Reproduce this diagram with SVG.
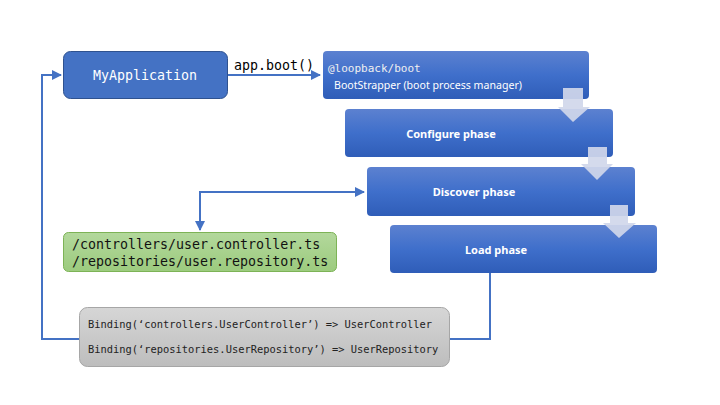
<svg xmlns="http://www.w3.org/2000/svg" width="720" height="405" viewBox="0 0 720 405">
<defs>
<linearGradient id="gBlue" x1="0" y1="0" x2="0" y2="1">
<stop offset="0" stop-color="#5C81D0"/>
<stop offset="0.5" stop-color="#3F6FCB"/>
<stop offset="1" stop-color="#2F5DB8"/>
</linearGradient>
<linearGradient id="gGreen" x1="0" y1="0" x2="0" y2="1">
<stop offset="0" stop-color="#B3D89C"/>
<stop offset="1" stop-color="#9CCB7E"/>
</linearGradient>
<linearGradient id="gGray" x1="0" y1="0" x2="0" y2="1">
<stop offset="0" stop-color="#D6D6D6"/>
<stop offset="1" stop-color="#BDBDBD"/>
</linearGradient>
<marker id="ah" viewBox="0 0 10 10" refX="9" refY="5" markerWidth="5" markerHeight="5" orient="auto-start-reverse">
<path d="M0,0 L10,5 L0,10 z" fill="#4472C4"/>
</marker>
<style>
.mono{font-family:"DejaVu Sans Mono","Liberation Mono",monospace;}
.sans{font-family:"Noto Sans","Open Sans","Liberation Sans",sans-serif;}
.phase{fill:url(#gBlue);}
.ptxt{font-family:"Noto Sans","Open Sans","Liberation Sans",sans-serif;font-weight:bold;font-size:11px;fill:#fff;text-anchor:middle;}
.conn{fill:none;stroke:#4472C4;stroke-width:2;}
.barrow{fill:#D0D7EA;fill-opacity:0.92;}
</style>
</defs>
<rect width="720" height="405" fill="#fff"/>

<g id="connectors">
<path class="conn" d="M227,75 H320" marker-end="url(#ah)"/>
<path class="conn" d="M79,339 H42 V75 H61" marker-end="url(#ah)"/>
<path class="conn" d="M490,273 V339 H450"/>
<path class="conn" d="M364,192 H200 V230" marker-start="url(#ah)" marker-end="url(#ah)"/>
<text x="234" y="70" class="mono" font-size="13.3" fill="#000">app.boot()</text>
</g>

<g id="myapp">
<rect x="63.5" y="51.5" width="164" height="47" rx="7" fill="#4472C4" stroke="#2F528F" stroke-width="1"/>
<text x="145" y="80" class="mono" font-size="13.3" fill="#fff" text-anchor="middle">MyApplication</text>
</g>

<g id="bootstrapper">
<rect x="323" y="51" width="266" height="48" rx="4" class="phase"/>
<text x="328" y="72" class="mono" font-size="11" fill="#F0F0F0">@loopback/boot</text>
<text x="334" y="89" class="sans" font-size="10.6" fill="#fff">BootStrapper (boot process manager)</text>
</g>

<g id="configure">
<rect x="345" y="109" width="268" height="48" rx="4" class="phase"/>
<text x="451" y="138" class="ptxt">Configure phase</text>
</g>

<g id="discover">
<rect x="367" y="167" width="268" height="49" rx="4" class="phase"/>
<text x="474" y="196" class="ptxt">Discover phase</text>
</g>

<g id="load">
<rect x="390" y="225" width="267" height="48" rx="4" class="phase"/>
<text x="496" y="254" class="ptxt">Load phase</text>
</g>

<g id="arrows">
<path class="barrow" d="M563,88 H583 V107 H590 L573,122 L558,107 H563 z"/>
<path class="barrow" d="M588,147 H607 V164 H613 L597,180 L581,164 H588 z"/>
<path class="barrow" d="M610,205 H628 V223 H636 L619,238 L603,223 H610 z"/>
</g>

<g id="files">
<rect x="63.5" y="232.5" width="273" height="39" rx="5" fill="url(#gGreen)" stroke="#7DB356" stroke-width="1"/>
<text x="72" y="249" class="mono" font-size="13.3" fill="#111">/controllers/user.controller.ts</text>
<text x="72" y="266" class="mono" font-size="13.3" fill="#111">/repositories/user.repository.ts</text>
</g>

<g id="bindings">
<rect x="79.5" y="307.5" width="370" height="59" rx="8" fill="url(#gGray)" stroke="#A6A6A6" stroke-width="1"/>
<text x="88" y="328" class="mono" font-size="10.4" fill="#222">Binding(‘controllers.UserController’) =&gt; UserController</text>
<text x="88" y="353" class="mono" font-size="10.4" fill="#222">Binding(‘repositories.UserRepository’) =&gt; UserRepository</text>
</g>
</svg>
